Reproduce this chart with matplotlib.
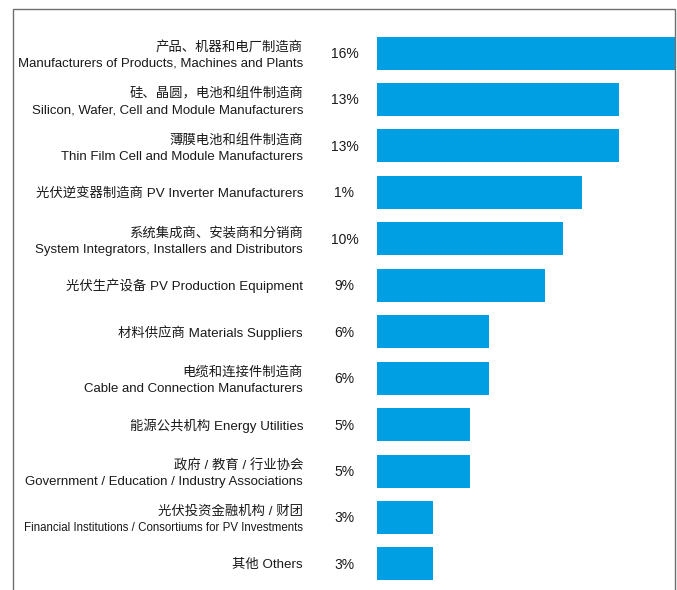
import matplotlib
matplotlib.use("Agg")
import matplotlib.pyplot as plt
import matplotlib.transforms as mtransforms
from matplotlib.patches import Rectangle
from matplotlib import font_manager

plt.rcParams['font.family'] = ['Liberation Sans', 'Noto Sans CJK SC', 'DejaVu Sans']

labels_cn = ["产品、机器和电厂制造商", "硅、晶圆，电池和组件制造商", "薄膜电池和组件制造商",
             "光伏逆变器制造商 PV Inverter Manufacturers", "系统集成商、安装商和分销商",
             "光伏生产设备 PV Production Equipment", "材料供应商 Materials Suppliers",
             "电缆和连接件制造商", "能源公共机构 Energy Utilities", "政府 / 教育 / 行业协会",
             "光伏投资金融机构 / 财团", "其他 Others"]
labels_en = ["Manufacturers of Products, Machines and Plants",
             "Silicon, Wafer, Cell and Module Manufacturers",
             "Thin Film Cell and Module Manufacturers", "",
             "System Integrators, Installers and Distributors", "", "",
             "Cable and Connection Manufacturers", "",
             "Government / Education / Industry Associations",
             "Financial Institutions / Consortiums for PV Investments", ""]
values = [16, 13, 13, 11, 10, 9, 6, 6, 5, 5, 3, 3]
value_labels = ["16%", "13%", "13%", "1%", "10%", "9%", "6%", "6%", "5%", "5%", "3%", "3%"]

names = {f.name for f in font_manager.fontManager.ttflist}
narrow = 'Liberation Sans Narrow' if 'Liberation Sans Narrow' in names else None

W, H = 677, 590
fig = plt.figure(figsize=(W / 100, H / 100), dpi=100)

# frame
fig.add_artist(Rectangle((13 / W, -0.05), (675 - 13) / W, 1.05 - 9 / H,
                         transform=fig.transFigure, fill=False,
                         edgecolor='#6e6e6e', linewidth=1.0))

ax = fig.add_axes([377 / W, 0, (675 - 377) / W, 1 - 9 / H])
row0, step = 53, 46.45
top = -(row0 - 9) / step
bottom = (590 - row0) / step
pos = list(range(len(values)))
ax.barh(pos, values, height=33 / step, color='#009FE3', left=0)
ax.set_xlim(0, 16)
ax.set_ylim(bottom, top)
ax.axis('off')

trans = mtransforms.blended_transform_factory(fig.transFigure, ax.transData)
txtc = '#1a1a1a'
fs_cn = 9.6
fs_en = 9.5
for i in pos:
    ax.text(344.5 / W, i + 0.02, value_labels[i], transform=trans, ha='center', va='center',
            fontsize=10, color=txtc)
    if labels_en[i]:
        ax.text(303 / W, i - 0.115, labels_cn[i], transform=trans, ha='right', va='center',
                fontsize=fs_cn, color=txtc)
        if i == 10:
            if narrow:
                ax.text(303 / W, i + 0.235, labels_en[i], transform=trans, ha='right',
                        va='center', fontsize=9.8, color=txtc,
                        family=[narrow, 'DejaVu Sans'])
            else:
                ax.text(303 / W, i + 0.235, labels_en[i], transform=trans, ha='right',
                        va='center', fontsize=8.3, color=txtc)
        else:
            ax.text(303 / W, i + 0.235, labels_en[i], transform=trans, ha='right', va='center',
                    fontsize=fs_en, color=txtc)
    else:
        ax.text(303 / W, i + 0.02, labels_cn[i], transform=trans, ha='right', va='center',
                fontsize=fs_cn, color=txtc)

fig.savefig("out.png", dpi=100)
